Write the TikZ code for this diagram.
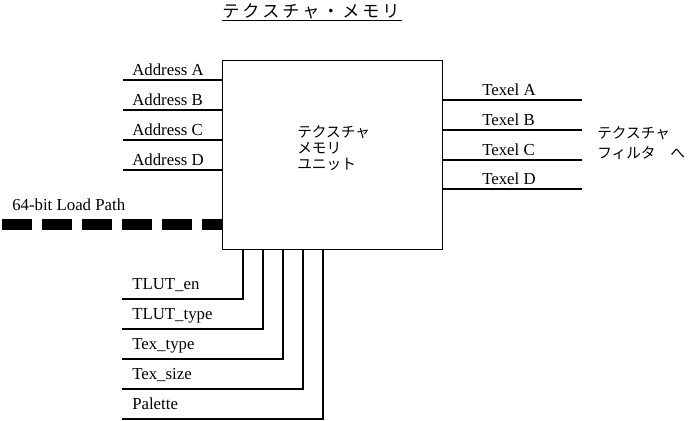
\documentclass[tikz,border=0pt]{standalone}
\usepackage{fontspec}
\setmainfont{Liberation Serif}
\newfontfamily\jp{Noto Sans CJK JP}
\newcommand{\tchar}[1]{\makebox[15pt][l]{#1}}
\begin{document}
\begin{tikzpicture}[x=0.75pt,y=-0.75pt,
  wire/.style={draw=black,line width=0.9pt},
  lbl/.style={anchor=base west,inner sep=0pt,font=\fontsize{12.6}{14}\selectfont},
  jptext/.style={inner sep=0pt,align=left,font=\jp\fontsize{11}{12}\selectfont}]
\useasboundingbox (0,0) rectangle (700,421);
% title
\node[anchor=west,inner sep=0pt,font=\jp\fontsize{12.8}{14}\selectfont] (title) at (222,11)
  {\tchar{テ}\tchar{ク}\tchar{ス}\tchar{チ}\tchar{ャ}\tchar{・}\tchar{メ}\tchar{モ}\tchar{リ}};
\coordinate (ulL) at (222,20.5);
\coordinate (ulR) at (402,20.5);
\draw[wire] (ulL) -- (ulR);
% main box
\node[draw,line width=0.9pt,minimum width=165pt,minimum height=141.75pt,inner sep=0pt] (box) at (332.25,154.75) {};
\node[jptext,anchor=west] (boxtxt) at (297,148) {テクスチャ\\メモリ\\ユニット};
% address lines
\foreach \y/\t [count=\i] in {80/A,110/B,140/C,170/D}{
  \coordinate (ad\i) at (123,\y);
  \draw[wire] (ad\i) -- (ad\i -| box.west);
  \node[lbl] (adl\i) at (132,\y-4.5) {Address \t};
}
% texel lines
\foreach \y/\t [count=\i] in {100/A,130/B,160/C,189/D}{
  \coordinate (tx\i) at (582,\y);
  \draw[wire] (tx\i -| box.east) -- (tx\i);
  \node[lbl] (txl\i) at (482,\y-5) {Texel \t};
}
\node[jptext,anchor=west,font=\jp\fontsize{11}{15}\selectfont] (filt) at (597,143) {テクスチャ\\フィルタ\hspace{11pt}へ};
% load path
\coordinate (lp) at (2,224.5);
\draw[line width=8.25pt,dash pattern=on 22.5pt off 7.5pt] (lp) -- (lp -| box.west);
\node[lbl] (lpl) at (12,210.5) {64-bit Load Path};
% bottom control lines
\foreach \x/\y/\t [count=\i] in {243/299/TLUT\_en,263/329/TLUT\_type,283/359/Tex\_type,303/389/Tex\_size,323/419/Palette}{
  \coordinate (cb\i) at (122,\y);
  \coordinate (cv\i) at (\x,\y);
  \draw[wire] (cb\i) -- (cv\i) -- (cv\i |- box.south);
  \node[lbl] (cl\i) at (132,\y-10) {\t};
}
\end{tikzpicture}
\end{document}
